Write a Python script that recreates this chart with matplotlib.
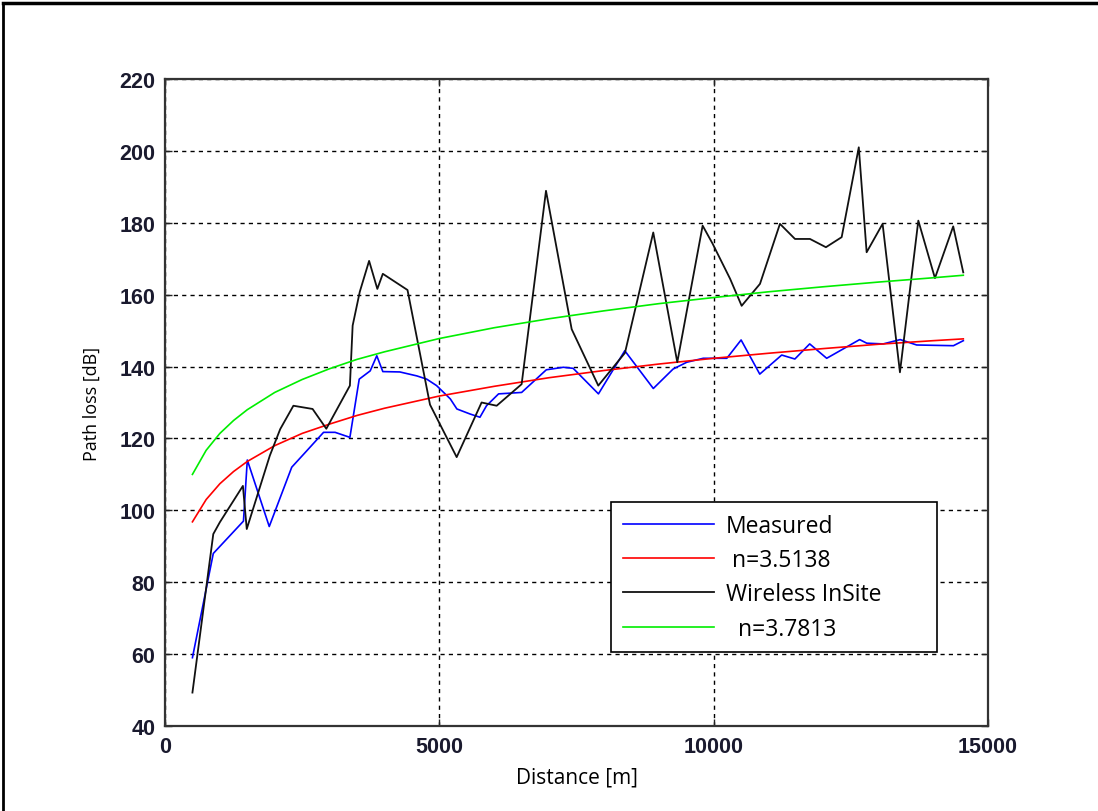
import matplotlib
matplotlib.use("Agg")
import matplotlib.pyplot as plt
from matplotlib.lines import Line2D
from matplotlib import font_manager as fm

# ---- data ----
meas_dist = [500, 880, 1430, 1500, 1900, 2310, 2580, 2890, 3100, 3370, 3540, 3740,
             3860, 3970, 4280, 4590, 4770, 4950, 5200, 5320, 5560, 5740, 5860, 6080,
             6500, 6950, 7260, 7440, 7900, 8380, 8900, 9260, 9510, 9810, 10240, 10500,
             10840, 11240, 11480, 11750, 12060, 12660, 12790, 13090, 13400, 13700,
             14370, 14550]
meas_pl = [59.0, 88.0, 97.0, 114.0, 95.5, 112.0, 116.5, 121.7, 121.7, 120.3, 136.5, 138.8,
           143.0, 138.6, 138.5, 137.4, 136.5, 134.7, 131.0, 128.2, 126.8, 125.9, 129.1, 132.4,
           132.8, 139.1, 139.8, 139.5, 132.4, 144.4, 133.9, 139.3, 141.2, 142.3, 142.3, 147.4,
           137.9, 143.2, 142.1, 146.3, 142.3, 147.5, 146.5, 146.3, 147.5, 146.0,
           145.8, 147.2]

sim_dist = [500, 880, 1000, 1420, 1490, 1910, 2100, 2340, 2690, 2940, 3370, 3420, 3550,
            3720, 3870, 3970, 4420, 4830, 5316, 5770, 6045, 6500, 6944, 7412, 7897,
            8383, 8899, 9337, 9799, 9980, 10300, 10510, 10844, 11208, 11482, 11755,
            12046, 12333, 12645, 12788, 13079, 13395, 13730, 14033, 14366, 14549]
sim_pl = [49.3, 93.4, 96.7, 106.8, 94.8, 115.2, 122.6, 129.1, 128.2, 122.7, 134.7, 151.4, 160.8,
          169.4, 161.6, 165.8, 161.3, 129.4, 114.8, 130.0, 129.1, 135.1, 188.9, 150.4, 134.7,
          143.8, 177.3, 141.2, 179.2, 174.2, 164.4, 156.9, 163.0, 179.7, 175.5, 175.5,
          173.2, 176.0, 201.0, 171.8, 179.7, 138.4, 180.6, 164.6, 179.0, 166.2]

fit_dist = [500, 750, 1000, 1250, 1500, 2000, 2500, 3000, 3500, 4000, 5000, 6000, 7000,
            8000, 9000, 10000, 11000, 12000, 13000, 14000, 14550]
fit_meas = [96.8, 103.0, 107.4, 110.8, 113.6, 118.0, 121.4, 124.0, 126.4, 128.4, 131.8,
            134.5, 136.9, 138.9, 140.7, 142.3, 143.7, 145.0, 146.2, 147.2, 147.7]
fit_sim = [110.0, 116.7, 121.4, 125.0, 128.0, 132.8, 136.4, 139.4, 142.0, 144.1, 147.8,
           150.8, 153.3, 155.5, 157.5, 159.2, 160.8, 162.2, 163.5, 164.7, 165.4]

labels = ["Measured", " n=3.5138", "Wireless InSite", "  n=3.7813"]
xticks = [0, 5000, 10000, 15000]
yticks = [40, 60, 80, 100, 120, 140, 160, 180, 200, 220]

# ---- fonts ----
avail = {f.name for f in fm.fontManager.ttflist}
tick_family = [f for f in ["Liberation Sans Narrow", "Liberation Sans", "DejaVu Sans"] if f in avail]
label_family = [f for f in ["Open Sans", "DejaVu Sans"] if f in avail]

fig = plt.figure(figsize=(10.98, 8.12), dpi=100)
ax = fig.add_axes([165 / 1098, 85 / 812, 823 / 1098, 647 / 812])

ax.plot(meas_dist, meas_pl, color="#0000ff", lw=1.2, label=labels[0])
ax.plot(fit_dist, fit_meas, color="#ff0000", lw=1.2, label=labels[1])
ax.plot(sim_dist, sim_pl, color="#111111", lw=1.3, label=labels[2])
ax.plot(fit_dist, fit_sim, color="#00ee00", lw=1.2, label=labels[3])

ax.set_xlim(0, 15000)
ax.set_ylim(40, 220)
ax.set_xticks(xticks)
ax.set_yticks(yticks)
ax.set_xticklabels([str(v) for v in xticks], family=tick_family, fontsize=15.5,
                   fontweight="bold", color="#1a1a2e")
ax.set_yticklabels([str(v) for v in yticks], family=tick_family, fontsize=15.5,
                   fontweight="bold", color="#1a1a2e")
ax.tick_params(direction="in", top=True, right=True, length=5, width=1,
               color="#222222", pad=7)
ax.grid(True, color="black", linestyle=(0, (3, 3)), linewidth=1.0)
for s in ax.spines.values():
    s.set_linewidth(1.6)
    s.set_color("#333333")

ax.set_xlabel("Distance [m]", family=label_family, fontsize=15, labelpad=7)
ax.set_ylabel("Path loss [dB]", family=label_family, fontsize=13, labelpad=13)

leg = ax.legend(loc="lower left", bbox_to_anchor=(0.542, 0.114, 0.396, 0.234),
                mode="expand",
                prop={"family": label_family, "size": 16.5},
                frameon=True, fancybox=False, edgecolor="black",
                handlelength=4.0, handletextpad=0.5, labelspacing=0.45,
                borderpad=0.5, borderaxespad=0)
leg.get_frame().set_linewidth(1.2)
leg.get_frame().set_alpha(1)

# outer figure border (top and left)
fig.add_artist(Line2D([3 / 1098, 3 / 1098], [0, 1 - 4 / 812], transform=fig.transFigure,
                      color="black", lw=2))
fig.add_artist(Line2D([3 / 1098, 1], [1 - 4 / 812, 1 - 4 / 812], transform=fig.transFigure,
                      color="black", lw=2.5))

fig.savefig("out.png", dpi=100)
